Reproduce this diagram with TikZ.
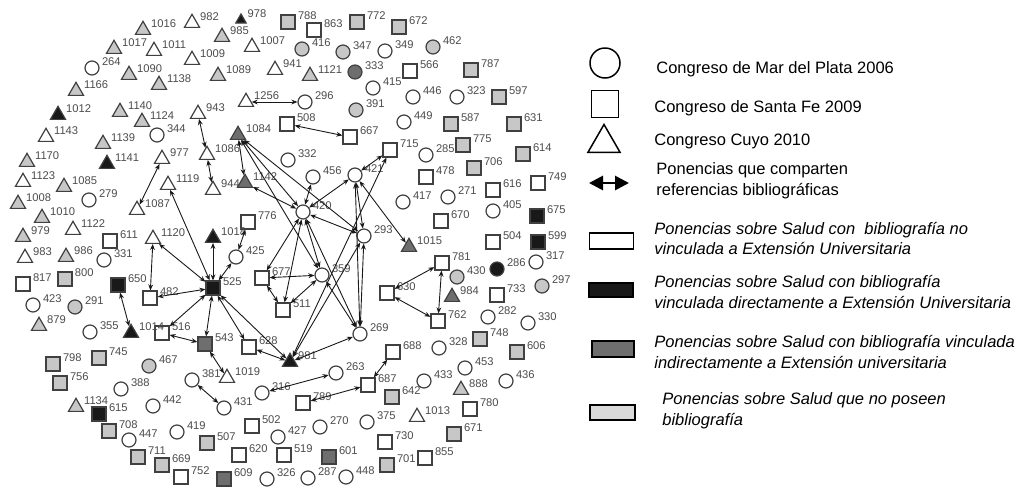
\documentclass[tikz,border=0pt]{standalone}
\usepackage{fontspec}
\setmainfont{Liberation Sans}
\usepackage{tikz}
\usetikzlibrary{shapes.geometric,arrows.meta}
\tikzstyle{lbl}     = [font=\fontsize{5.6}{6}\selectfont, text=black!70, inner sep=1pt, yshift=3pt]
\tikzstyle{ponC}    = [circle, draw=black!75, line width=0.6pt, inner sep=0, minimum size=7pt]
\tikzstyle{ponS}    = [rectangle, draw=black!75, line width=0.6pt, inner sep=0, minimum size=7pt]
\tikzstyle{ponT}    = [regular polygon, regular polygon sides=3, draw=black!75, line width=0.6pt, inner sep=0, minimum size=8.7pt]
\tikzstyle{novinc}  = [fill=white]
\tikzstyle{directa} = [fill=black!90]
\tikzstyle{indirecta} = [fill=black!57]
\tikzstyle{sinbib}  = [fill=black!22]
\tikzstyle{link}    = [{Stealth[length=3pt,width=2.4pt]}-{Stealth[length=3pt,width=2.4pt]}, line width=0.45pt, black!90]
\tikzstyle{leyenda} = [anchor=west, inner sep=0, align=left]

\begin{document}
\begin{tikzpicture}[x=0.5pt, y=-0.5pt,
                    font=\fontsize{8.25}{10.3}\selectfont
                    ]
\useasboundingbox (0,0) rectangle (1018,488);

    % Mar del Plata 2006
    \foreach \n/\x/\y in {264/92/68, 349/385/51, 415/373/88, 296/305/102, 446/413/97, 323/457/97,
        449/404/122, 344/157/135, 285/426/155, 332/288/160, 456/313/177, 421/355/175, 420/303/212,
        293/364/236, 417/403/202, 271/448/197, 405/493/211, 279/89/200, 331/104/260, 425/236/257,
        359/322/275, 317/536/262, 423/33/305, 355/90/332, 269/360/334, 282/488/317, 330/528/323,
        328/439/348, 453/465/368, 381/192/380, 388/121/389, 263/336/373, 316/262/393, 433/424/381,
        436/506/381, 442/153/406, 431/224/408, 270/320/427, 375/367/422, 419/177/432, 427/278/437,
        447/129/440, 326/267/479, 287/308/478, 448/346/477}
        \node[ponC, novinc, label={[lbl]east:\n}] (p\n) at (\x,\y) {};
    \foreach \n/\x/\y in {416/302/49, 347/343/52, 462/433/47, 391/356/110, 430/457/277, 297/542/286,
        291/75/307, 467/149/366}
        \node[ponC, sinbib, label={[lbl]east:\n}] (p\n) at (\x,\y) {};
    \node[ponC, indirecta, label={[lbl]east:333}] (p333) at (355,72) {};
    \node[ponC, directa, label={[lbl]east:286}] (p286) at (497,269) {};

    % Santa Fe 2009
    \foreach \n/\x/\y in {863/314/30, 566/410/71, 508/287/124, 667/350/137, 715/390/150, 478/426/177,
        749/538/183, 616/493/190, 670/441/221, 776/248/222, 611/110/241, 504/493/242, 781/442/263,
        677/262/278, 817/23/284, 482/150/298, 630/387/293, 733/497/295, 511/283/310, 762/438/321,
        516/162/333, 628/249/347, 688/393/352, 687/368/385, 789/303/403, 780/470/409, 502/252/426,
        730/385/442, 620/239/455, 519/284/455, 855/425/458, 752/181/477}
        \node[ponS, novinc, label={[lbl]east:\n}] (p\n) at (\x,\y) {};
    \foreach \n/\x/\y in {788/288/22, 772/357/22, 672/399/27, 787/471/70, 597/499/97, 587/451/124,
        631/514/124, 775/463/145, 614/523/154, 706/474/168, 800/65/279, 748/480/339, 606/517/352,
        798/53/364, 745/99/358, 756/60/383, 642/392/397, 708/109/431, 507/207/443, 671/454/434,
        711/138/457, 669/162/465, 701/387/465}
        \node[ponS, sinbib, label={[lbl]east:\n}] (p\n) at (\x,\y) {};
    \foreach \n/\x/\y in {543/205/344, 601/329/457, 609/224/479}
        \node[ponS, indirecta, label={[lbl]east:\n}] (p\n) at (\x,\y) {};
    \foreach \n/\x/\y in {675/537/216, 599/538/242, 650/118/285, 525/213/288, 615/99/414}
        \node[ponS, directa, label={[lbl]east:\n}] (p\n) at (\x,\y) {};

    % Cuyo 2010
    \foreach \n/\x/\y in {982/192/23, 1011/154/51, 1007/252/47, 1009/192/60, 941/275/70, 1256/246/102,
        943/198/114, 1143/46/137, 1086/207/155, 977/162/159, 1123/23/182, 1119/168/185, 944/213/190,
        1087/137/210, 1122/73/230, 1120/153/239, 983/25/258, 1019/227/378, 1013/417/417}
        \node[ponT, novinc, label={[lbl]east:\n}] (p\n) at (\x,\y) {};
    \foreach \n/\x/\y in {1016/143/30, 985/222/37, 1017/114/49, 1090/129/75, 1089/218/76, 1121/310/76,
        1138/159/85, 1166/76/91, 1140/120/112, 1124/142/122, 1139/103/144, 1170/27/162, 1085/64/187,
        1008/18/204, 1010/42/218, 979/23/237, 986/66/257, 879/39/326, 888/461/390, 1134/76/407}
        \node[ponT, sinbib, label={[lbl]east:\n}] (p\n) at (\x,\y) {};
    \foreach \n/\x/\y in {1084/238/135, 1142/245/183, 1015/409/247, 984/452/297}
        \node[ponT, indirecta, label={[lbl]east:\n}] (p\n) at (\x,\y) {};
    \foreach \n/\x/\y in {1012/58/115, 1141/107/164, 1018/213/238, 1014/131/333, 981/290/362}
        \node[ponT, directa, label={[lbl]east:\n}] (p\n) at (\x,\y) {};
    \node[ponT, directa, minimum size=6pt, label={[lbl]east:978}] (p978) at (241,20) {};

    \foreach \a/\b in {1256/296, 508/667, 943/1086, 1086/944, 1084/1142, 1084/420, 1084/359,
        1084/293, 1142/420, 977/1087, 1119/525, 1120/525, 1120/482, 482/525, 650/1014, 516/525,
        516/543, 525/543, 543/1019, 381/431, 525/628, 525/981, 628/981, 525/425, 425/776, 525/1018,
        456/420, 420/421, 420/293, 420/677, 420/511, 420/359, 420/269, 421/715, 421/293, 421/269,
        293/269, 421/1015, 677/359, 677/511, 511/359, 359/269, 715/981, 293/981, 981/269,
        630/781, 630/762, 781/762, 316/263, 789/687, 687/688}
        \draw[link] (p\a) -- (p\b);

    % leyenda
    \node[circle, draw, line width=0.75pt, inner sep=0, minimum size=15pt] (lgMdp) at (605,63) {};
    \node[leyenda] (txMdp) at (656,69) {Congreso de Mar del Plata 2006};
    \node[rectangle, draw, line width=0.75pt, inner sep=0, minimum size=13.5pt] (lgSfe) at (605,104) {};
    \node[leyenda] (txSfe) at (654,108) {Congreso de Santa Fe 2009};
    \node[regular polygon, regular polygon sides=3, draw, line width=0.75pt, inner sep=0, minimum size=18.5pt] (lgCuyo) at (604,143) {};
    \node[leyenda] (txCuyo) at (654,141) {Congreso Cuyo 2010};
    \coordinate (lgA) at (589,183);
    \coordinate (lgB) at (629,183);
    \draw[line width=1.4pt, {Triangle[length=7pt,width=7pt]}-{Triangle[length=7pt,width=7pt]}] (lgA) -- (lgB);
    \node[leyenda] (txRef) at (656,180.5) {Ponencias que comparten\\referencias bibliográficas};

    \node[draw, line width=0.75pt, inner sep=0, minimum width=22pt, minimum height=8pt, novinc] (lgNov) at (611.5,241) {};
    \node[leyenda, font=\fontsize{8.25}{10.3}\selectfont\itshape] (txNov) at (654,238.5) {Ponencias sobre Salud con\ \ bibliografía no\\vinculada a Extensión Universitaria};
    \node[draw, line width=0.75pt, inner sep=0, minimum width=22pt, minimum height=7pt, directa] (lgDir) at (611,290) {};
    \node[leyenda, font=\fontsize{8.25}{10.3}\selectfont\itshape] (txDir) at (654,292) {Ponencias sobre Salud con bibliografía\\vinculada directamente a Extensión Universitaria};
    \node[draw, line width=0.75pt, inner sep=0, minimum width=21pt, minimum height=8pt, indirecta] (lgInd) at (613,349) {};
    \node[leyenda, font=\fontsize{8.25}{10.3}\selectfont\itshape] (txInd) at (654,352) {Ponencias sobre Salud con bibliografía vinculada\\indirectamente a Extensión universitaria};
    \node[draw, line width=0.75pt, inner sep=0, minimum width=22.5pt, minimum height=7.5pt, fill=black!15] (lgSin) at (612.5,412.5) {};
    \node[leyenda, font=\fontsize{8.25}{10.3}\selectfont\itshape] (txSin) at (662,410.5) {Ponencias sobre Salud que no poseen\\bibliografía};

\end{tikzpicture}
\end{document}
